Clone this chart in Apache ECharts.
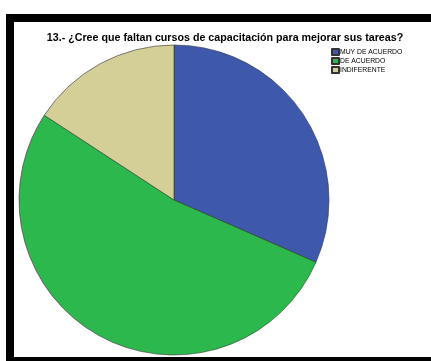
<!DOCTYPE html>
<html>
<head>
<meta charset="utf-8">
<script src="https://cdn.jsdelivr.net/npm/echarts@6/dist/echarts.min.js"></script>
<style>
  html, body { margin: 0; padding: 0; background: #fff; }
  #chart { width: 431px; height: 361px; }
</style>
</head>
<body>
<div id="chart"></div>
<script>
// Data
const categories = ["MUY DE ACUERDO", "DE ACUERDO", "INDIFERENTE"];
const counts = [6, 10, 3];
const sliceColors = ["#3E58AC", "#2DB84D", "#D4CE97"];

const chart = echarts.init(document.getElementById("chart"));

const option = {
    animation: false,

    // Black frame round the chart (left, top, bottom)
    graphic: [
        { type: "rect", shape: { x: 6, y: 14, width: 8, height: 347 }, style: { fill: "#000" } },
        { type: "rect", shape: { x: 6, y: 14, width: 425, height: 8 }, style: { fill: "#000" } },
        { type: "rect", shape: { x: 6, y: 357, width: 425, height: 4 }, style: { fill: "#000" } }
    ],

    // TITLE
    title: {
        text: "13.- ¿Cree que faltan cursos de capacitación para mejorar sus tareas?",
        left: 220,
        top: 28,
        textAlign: "center",
        textStyle: {
            fontFamily: "Liberation Sans, Arial, sans-serif",
            fontSize: 10.7,
            fontWeight: "bold",
            color: "#000"
        }
    },

    // LEGEND
    legend: {
        orient: "vertical",
        left: 331,
        top: 48,
        padding: 0,
        itemWidth: 7,
        itemHeight: 6,
        itemGap: 1,
        icon: "rect",
        data: categories,
        textStyle: {
            fontFamily: "Liberation Sans, Arial, sans-serif",
            fontSize: 6.8,
            lineHeight: 7,
            color: "#000",
            padding: [0, 0, 0, -4]
        }
    },

    // SERIES
    series: [{
        type: "pie",
        center: [174, 200],
        radius: 155,
        startAngle: 90,
        clockwise: true,
        label: { show: false },
        labelLine: { show: false },
        emphasis: { disabled: true },
        itemStyle: { borderColor: "#333", borderWidth: 0.6 },
        data: categories.map((name, i) => ({
            name: name,
            value: counts[i],
            itemStyle: { color: sliceColors[i] }
        }))
    }]
};

chart.setOption(option);
</script>
</body>
</html>
